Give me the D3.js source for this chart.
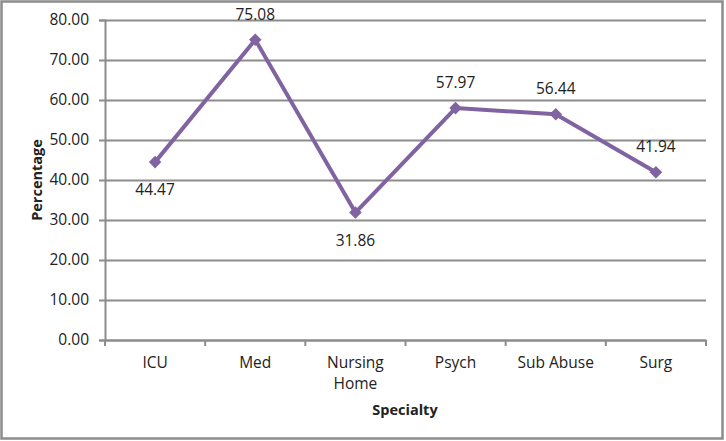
<!DOCTYPE html>
<html>
<head>
<meta charset="utf-8">
<script src="https://cdn.jsdelivr.net/npm/d3@7"></script>
<style>
  body { margin: 0; background: #fff; }
  svg text { font-family: "Open Sans", "Liberation Sans", sans-serif; fill: #222; }
</style>
</head>
<body>
<main></main>
<script>
const categories = [['ICU'], ['Med'], ['Nursing', 'Home'], ['Psych'], ['Sub Abuse'], ['Surg']];
const values = [44.47, 75.08, 31.86, 57.97, 56.44, 41.94];
// label above (-1) or below (1) the point
const labelSide = [1, -1, 1, -1, -1, -1];
const yTicks = [0, 10, 20, 30, 40, 50, 60, 70, 80];

const dimensions = {
  width: 726,
  height: 441,
  margin: { top: 20, right: 20, bottom: 101, left: 105 },
};
dimensions.boundedWidth = 601;
dimensions.boundedHeight = 320;

const svg = d3
  .select('main')
  .append('svg')
  .attr('width', dimensions.width)
  .attr('height', dimensions.height);

// outer frame
svg
  .append('rect')
  .attr('x', 1.5)
  .attr('y', 1.5)
  .attr('width', 721)
  .attr('height', 437)
  .attr('fill', '#fff')
  .attr('stroke', '#8c8c8c')
  .attr('stroke-width', 2.5);

const bounds = svg
  .append('g')
  .attr('transform', `translate(${dimensions.margin.left} ${dimensions.margin.top})`);

const xScale = d3
  .scaleBand()
  .domain(categories.map((d, i) => i))
  .range([0, dimensions.boundedWidth]);

const yScale = d3
  .scaleLinear()
  .domain([0, 80])
  .range([dimensions.boundedHeight, 0]);

// gridlines + y axis
const yAxis = d3
  .axisLeft(yScale)
  .tickValues(yTicks)
  .tickSize(6)
  .tickPadding(10)
  .tickFormat(d3.format('.2f'));

const yAxisGroup = bounds.append('g').call(yAxis);
yAxisGroup.select('.domain').attr('stroke', '#8c8c8c').attr('stroke-width', 2);
yAxisGroup.selectAll('.tick line').attr('stroke', '#8c8c8c').attr('stroke-width', 2);
yAxisGroup
  .selectAll('.tick')
  .append('line')
  .attr('x2', dimensions.boundedWidth)
  .attr('stroke', '#8c8c8c')
  .attr('stroke-width', 2);
yAxisGroup
  .selectAll('text')
  .attr('font-size', 15.5)
  .style('font-family', '"Open Sans", sans-serif')
  .attr('fill', '#222');

// x axis
const xAxis = d3
  .axisBottom(xScale)
  .tickSize(0)
  .tickFormat('');
const xAxisGroup = bounds
  .append('g')
  .attr('transform', `translate(0 ${dimensions.boundedHeight})`)
  .call(xAxis);
xAxisGroup.select('.domain').attr('stroke', '#8c8c8c').attr('stroke-width', 2);

// category separator ticks
const edges = categories.map((d, i) => xScale(i)).concat([dimensions.boundedWidth]);
xAxisGroup
  .selectAll('line.sep')
  .data(edges)
  .join('line')
  .attr('class', 'sep')
  .attr('x1', d => d)
  .attr('x2', d => d)
  .attr('y1', 0)
  .attr('y2', 6)
  .attr('stroke', '#8c8c8c')
  .attr('stroke-width', 2);

xAxisGroup
  .selectAll('text.cat')
  .data(categories)
  .join('text')
  .attr('class', 'cat')
  .attr('text-anchor', 'middle')
  .attr('font-size', 15.5)
  .attr('x', (d, i) => xScale(i) + xScale.bandwidth() / 2)
  .attr('y', 28)
  .selectAll('tspan')
  .data(d => d)
  .join('tspan')
  .attr('x', function () { return d3.select(this.parentNode).attr('x'); })
  .attr('dy', (d, i) => (i === 0 ? 0 : 21))
  .text(d => d);

// line
const cx = i => xScale(i) + xScale.bandwidth() / 2;
const line = d3
  .line()
  .x((d, i) => cx(i))
  .y(d => yScale(d));

bounds
  .append('path')
  .attr('d', line(values))
  .attr('fill', 'none')
  .attr('stroke', '#8064a2')
  .attr('stroke-width', 4)
  .attr('stroke-linejoin', 'round');

bounds
  .selectAll('path.marker')
  .data(values)
  .join('path')
  .attr('class', 'marker')
  .attr('d', d3.symbol(d3.symbolDiamond2, 100))
  .attr('transform', (d, i) => `translate(${cx(i)} ${yScale(d)})`)
  .attr('fill', '#8064a2');

bounds
  .selectAll('text.val')
  .data(values)
  .join('text')
  .attr('class', 'val')
  .attr('text-anchor', 'middle')
  .attr('font-size', 15.5)
  .attr('x', (d, i) => cx(i))
  .attr('y', (d, i) => yScale(d) + (labelSide[i] > 0 ? 33 : -20))
  .text(d => d3.format('.2f')(d));

// axis titles
svg
  .append('text')
  .attr('transform', `translate(42 ${dimensions.margin.top + dimensions.boundedHeight / 2}) rotate(-90)`)
  .attr('text-anchor', 'middle')
  .attr('font-size', 14.5)
  .attr('font-weight', 'bold')
  .text('Percentage');

svg
  .append('text')
  .attr('x', 405)
  .attr('y', 415)
  .attr('text-anchor', 'middle')
  .attr('font-size', 14.5)
  .attr('font-weight', 'bold')
  .text('Specialty');
</script>
</body>
</html>
